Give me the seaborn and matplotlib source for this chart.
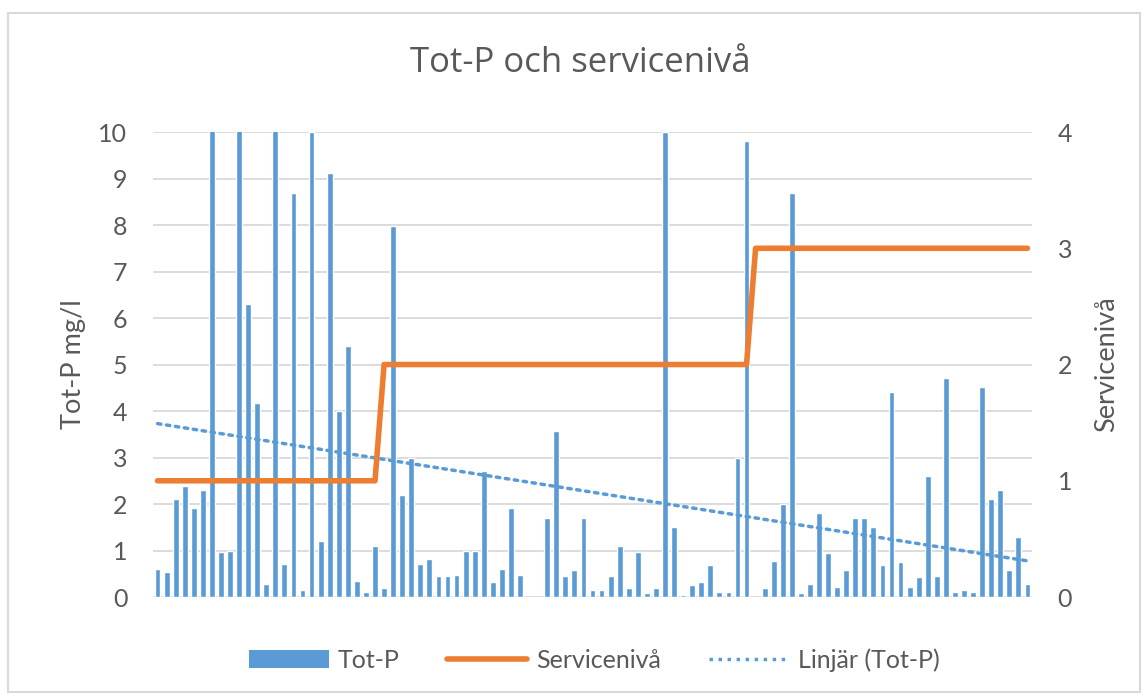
import numpy as np
import pandas as pd
import matplotlib
matplotlib.use('Agg')
import matplotlib.pyplot as plt
from matplotlib.patches import Patch, Rectangle
from matplotlib.lines import Line2D
import seaborn as sns

# Tot-P (mg/l) per sample.
# the bars that hit the top of the axis are clipped at 10, their real values are
# estimated so that the linear trend matches the dotted line (3.74 -> 0.75)
tot_p = [0.61, 0.54, 2.10, 2.39, 1.91, 2.30, 15.5, 0.97, 1.00, 13.0,
         6.30, 4.18, 0.29, 12.5, 0.71, 8.68, 0.15, 10.0, 1.20, 9.11,
         3.99, 5.40, 0.34, 0.11, 1.10, 0.19, 7.98, 2.20, 3.00, 0.71,
         0.81, 0.45, 0.45, 0.48, 1.00, 1.00, 2.70, 0.32, 0.61, 1.91,
         0.48, np.nan, np.nan, 1.71, 3.58, 0.45, 0.58, 1.71, 0.15, 0.15,
         0.45, 1.10, 0.19, 0.97, 0.08, 0.19, 10.0, 1.51, 0.05, 0.25,
         0.32, 0.68, 0.11, 0.11, 3.00, 9.80, np.nan, 0.19, 0.77, 2.00,
         8.68, 0.08, 0.29, 1.80, 0.94, 0.22, 0.58, 1.71, 1.71, 1.51,
         0.68, 4.41, 0.75, 0.22, 0.42, 2.60, 0.45, 4.72, 0.11, 0.15,
         0.11, 4.52, 2.10, 2.30, 0.58, 1.30, 0.29]

# service level per sample
service = [1] * 25 + [2] * 41 + [3] * 31

df = pd.DataFrame({'idx': np.arange(len(tot_p)), 'totp': tot_p, 'service': service})

blue = '#5B9BD5'
orange = '#ED7D31'
grid = '#D9D9D9'
text = '#595959'

sns.set_style('white')
plt.rcParams['font.family'] = ['Lato', 'DejaVu Sans']

fig = plt.figure(figsize=(11.47, 7.0), dpi=100)
ax = fig.add_axes([0.1334, 0.1471, 0.8997 - 0.1334, 0.8114 - 0.1471])

sns.barplot(data=df, x='idx', y='totp', color=blue, saturation=1, width=0.64, ax=ax, zorder=2)
sns.regplot(data=df, x='idx', y='totp', scatter=False, ci=None, ax=ax,
            line_kws=dict(color=blue, lw=2.5, ls=(0, (1, 1.6)), dash_capstyle='round', zorder=3))

ax.set_xlim(-0.5, len(tot_p) - 0.5)
ax.set_ylim(0, 10)
ax.set_yticks(range(0, 11))
ax.set_xticks([])
ax.set_xlabel('')
ax.set_ylabel('Tot-P mg/l', fontsize=19.5, color=text, labelpad=9)
ax.grid(axis='y', color=grid, lw=1.3, zorder=0)
ax.set_axisbelow(True)
ax.tick_params(axis='y', length=0, labelsize=18, labelcolor=text, pad=18.5)
for s in ax.spines.values():
    s.set_visible(False)

ax2 = ax.twinx()
sns.lineplot(data=df, x='idx', y='service', color=orange, lw=4, ax=ax2,
             solid_capstyle='round', solid_joinstyle='round')
ax2.set_ylim(0, 4)
ax2.set_yticks(range(0, 5))
ax2.set_xlim(-0.5, len(tot_p) - 0.5)
ax2.set_ylabel('Servicenivå', fontsize=19.5, color=text, labelpad=16, rotation=90)
ax2.tick_params(axis='y', length=0, labelsize=18, labelcolor=text, pad=18.5)
ax2.grid(False)
for s in ax2.spines.values():
    s.set_visible(False)

fig.text(0.506, 0.897, 'Tot-P och servicenivå', ha='center', va='baseline',
         fontsize=25, color=text, family=['Open Sans', 'DejaVu Sans'])

handles = [Patch(facecolor=blue, edgecolor='none'),
           Line2D([], [], color=orange, lw=4, solid_capstyle='round'),
           Line2D([], [], color=blue, lw=2.5, ls=(0, (1, 1.6)))]
labels = ['Tot-P', 'Servicenivå', 'Linjär (Tot-P)']
leg = fig.legend(handles, labels, loc='center', bbox_to_anchor=(0.518, 0.057), ncol=3,
                 frameon=False, fontsize=18, handlelength=3.2, handletextpad=0.36,
                 columnspacing=1.9, labelcolor=text)

fig.add_artist(Rectangle((0.007, 0.012), 0.987, 0.97, transform=fig.transFigure,
                         fill=False, edgecolor=grid, lw=1.5))

fig.savefig('out.png', dpi=100)
